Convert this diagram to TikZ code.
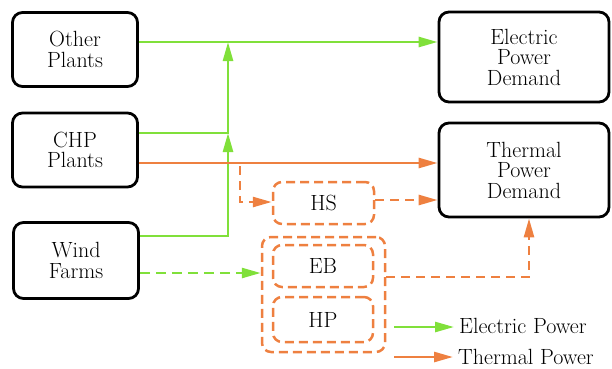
\documentclass[tikz,border=0pt]{standalone}
\usepackage{fontspec}
\usetikzlibrary{arrows.meta,calc}
\definecolor{gr}{HTML}{80E03A}
\definecolor{orn}{HTML}{EE8040}
\begin{document}
\begin{tikzpicture}[x=1pt,y=-1pt,
  blk/.style={draw=black, line width=2.8pt, rounded corners=10pt, align=center,
    font=\fontsize{22}{20.5}\selectfont, inner sep=0pt},
  dbox/.style={draw=orn, line width=2.5pt, dash pattern=on 9pt off 5pt,
    rounded corners=9pt, align=center, font=\fontsize{22}{20.5}\selectfont, inner sep=0pt},
  gline/.style={draw=gr, line width=2.6pt},
  oline/.style={draw=orn, line width=2.6pt},
  gdash/.style={gline, dash pattern=on 10pt off 6pt},
  odash/.style={oline, dash pattern=on 9pt off 6pt},
  tip/.style={-{Triangle[length=19pt,width=10pt]}},
  lbl/.style={anchor=west, inner sep=0pt, font=\fontsize{22}{20.5}\selectfont}
]
\useasboundingbox (0,0) rectangle (612,368);

% main boxes
\node[blk, minimum width=125pt, minimum height=74pt] (other) at (75,49.5) {Other\\Plants};
\node[blk, minimum width=125pt, minimum height=74pt] (chp) at (75,150) {CHP\\Plants};
\node[blk, minimum width=125pt, minimum height=76pt] (wind) at (76,260.5) {Wind\\Farms};
\node[blk, minimum width=170pt, minimum height=90pt] (elec) at (524,57) {Electric\\Power\\Demand};
\node[blk, minimum width=170pt, minimum height=94pt] (therm) at (524,170) {Thermal\\Power\\Demand};

% storage / conversion
\node[dbox, minimum width=123pt, minimum height=115pt] (outer) at (323.5,294.5) {};
\node[dbox, minimum width=101pt, minimum height=42pt] (hs) at (323.5,203) {HS};
\node[dbox, minimum width=100pt, minimum height=42pt] (eb) at (323,266) {EB};
\node[dbox, minimum width=100pt, minimum height=45pt] (hp) at (323,319.5) {HP};

% junctions
\coordinate (j1) at (228,42);
\coordinate (j2) at (228,133);
\coordinate (j3) at (228,236);
\coordinate (hsdrop) at (240,166);
\coordinate (hscorner) at (240,202);
\coordinate (ebcorner) at (529,277);

% electric power
\draw[gline, tip] (other.east |- j1) -- (elec.west |- j1);
\draw[gline, tip] (chp.east |- j2) -- (j2) -- (j1);
\draw[gline, tip] (wind.east |- j3) -- (j3) -- (j2);
\draw[gdash, tip] (wind.east |- 0,273) -- (outer.west |- 0,273);

% thermal power
\draw[oline, tip] (chp.east |- 0,163) -- (therm.west |- 0,163);
\draw[odash, tip] (hsdrop) -- (hscorner) -- (hs.west |- hscorner);
\draw[odash, tip] (hs.east |- 0,200) -- (therm.west |- 0,200);
\draw[odash, tip] (outer.east |- ebcorner) -- (ebcorner) -- (therm.south -| ebcorner);

% legend
\node[lbl] (le) at (459,326) {Electric Power};
\node[lbl] (lt) at (458,357) {Thermal Power};
\coordinate (les) at (394,327);
\coordinate (lts) at (394,357);
\draw[gline, tip] (les) -- ([xshift=-5pt]le.west |- les);
\draw[oline, tip] (lts) -- ([xshift=-5pt]lt.west |- lts);
\end{tikzpicture}
\end{document}
